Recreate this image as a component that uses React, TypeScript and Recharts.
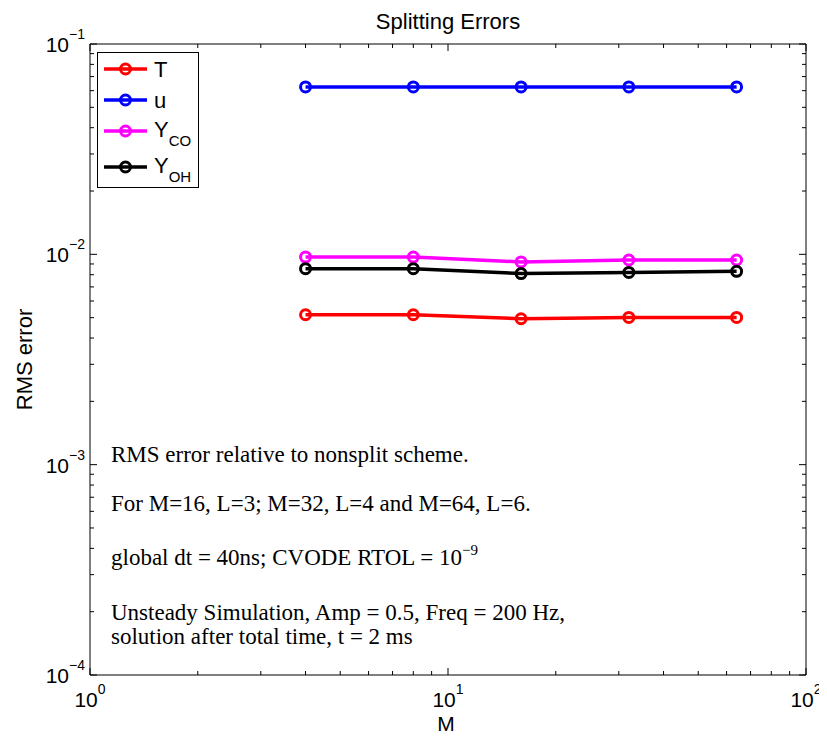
import React from 'react';
import { LineChart, Line, XAxis, YAxis, ReferenceArea, Legend } from 'recharts';

// ---- data ----
const M_VALUES = [4, 8, 16, 32, 64];
const T_ERR = [0.00516, 0.00516, 0.00494, 0.00501, 0.00501];
const U_ERR = [0.0625, 0.0625, 0.0625, 0.0625, 0.0625];
const YCO_ERR = [0.0097, 0.0097, 0.0092, 0.0094, 0.0094];
const YOH_ERR = [0.00855, 0.00855, 0.0081, 0.0082, 0.0083];

const X_TICKS = [1, 2, 3, 4, 5, 6, 7, 8, 9, 10, 20, 30, 40, 50, 60, 70, 80, 90, 100];
const X_MAJOR = [1, 10, 100];
const X_MAJOR_EXP = ['0', '1', '2'];
const Y_TICKS = [
  0.0001, 0.0002, 0.0003, 0.0004, 0.0005, 0.0006, 0.0007, 0.0008, 0.0009,
  0.001, 0.002, 0.003, 0.004, 0.005, 0.006, 0.007, 0.008, 0.009,
  0.01, 0.02, 0.03, 0.04, 0.05, 0.06, 0.07, 0.08, 0.09, 0.1,
];
const Y_MAJOR = [0.0001, 0.001, 0.01, 0.1];
const Y_MAJOR_EXP = ['\u22124', '\u22123', '\u22122', '\u22121'];

const SERIES = [
  { key: 'T', name: 'T', color: '#ff0000', values: T_ERR },
  { key: 'u', name: 'u', color: '#0000ff', values: U_ERR },
  { key: 'Yco', name: 'Y_CO', color: '#ff00ff', values: YCO_ERR },
  { key: 'Yoh', name: 'Y_OH', color: '#000000', values: YOH_ERR },
];

const NOTES = [
  'RMS error relative to nonsplit scheme.',
  'For M=16, L=3; M=32, L=4 and M=64, L=6.',
  'global dt = 40ns; CVODE RTOL = 10^\u22129',
  'Unsteady Simulation, Amp = 0.5, Freq = 200 Hz,',
  'solution after total time, t = 2 ms',
];

const data = M_VALUES.map((m, i) => {
  const row: any = { M: m };
  SERIES.forEach((s) => (row[s.key] = s.values[i]));
  return row;
});

// ---- layout ----
const W = 819;
const H = 728;
const PLOT_LEFT = 82;
const PLOT_TOP = 36;
const PLOT_RIGHT = 798;
const PLOT_BOTTOM = 667;
const SANS = '"Liberation Sans", Arial, Helvetica, sans-serif';
const SERIF = '"Liberation Serif", "Times New Roman", serif';

const XTick = (props: any) => {
  const { x, payload } = props;
  const v = payload.value;
  const mi = X_MAJOR.indexOf(v);
  const major = mi >= 0;
  const len = major ? 7 : 4;
  return (
    <g>
      <line x1={x} x2={x} y1={PLOT_BOTTOM} y2={PLOT_BOTTOM - len} stroke="#000" strokeWidth={1} />
      <line x1={x} x2={x} y1={PLOT_TOP} y2={PLOT_TOP + len} stroke="#000" strokeWidth={1} />
      {major && (
        <text x={x} y={PLOT_BOTTOM + 32} textAnchor="middle" fontFamily={SANS} fill="#000">
          <tspan fontSize={21}>10</tspan>
          <tspan fontSize={14} dy={-13}>{X_MAJOR_EXP[mi]}</tspan>
        </text>
      )}
    </g>
  );
};

const YTick = (props: any) => {
  const { y, payload } = props;
  const v = payload.value;
  const mi = Y_MAJOR.findIndex((t) => Math.abs(t - v) / t < 1e-6);
  const major = mi >= 0;
  const len = major ? 7 : 4;
  return (
    <g>
      <line x1={PLOT_LEFT} x2={PLOT_LEFT + len} y1={y} y2={y} stroke="#000" strokeWidth={1} />
      <line x1={PLOT_RIGHT} x2={PLOT_RIGHT - len} y1={y} y2={y} stroke="#000" strokeWidth={1} />
      {major && (
        <text x={PLOT_LEFT - 5} y={y + 8} textAnchor="end" fontFamily={SANS} fill="#000">
          <tspan fontSize={21}>10</tspan>
          <tspan fontSize={14} dy={-13}>{Y_MAJOR_EXP[mi]}</tspan>
        </text>
      )}
    </g>
  );
};

const LEGEND_ROW_Y = [16, 47, 78, 114];

const renderLegend = (props: any) => {
  const payload = props.payload || [];
  const ordered = SERIES.map((s) => {
    const p = payload.find((q: any) => q.dataKey === s.key || q.value === s.name);
    return { name: s.name, color: p ? p.color : s.color };
  });
  return (
    <div style={{ width: 102, height: 136, border: '1px solid #000', background: '#fff', boxSizing: 'border-box' }}>
      <svg width={100} height={134} style={{ display: 'block' }}>
        {ordered.map((p: any, i: number) => {
          const ly = LEGEND_ROW_Y[i];
          const parts = String(p.name).split('_');
          return (
            <g key={i}>
              <line x1={6} x2={49} y1={ly} y2={ly} stroke={p.color} strokeWidth={3.5} />
              <circle cx={27.5} cy={ly} r={5} fill="none" stroke={p.color} strokeWidth={3} />
              <text x={56} y={parts.length > 1 ? ly + 6 : ly + 8} fontFamily={SANS} fill="#000" fontSize={22}>
                {parts[0]}
                {parts.length > 1 && (
                  <tspan fontSize={15} dy={9}>{parts[1]}</tspan>
                )}
              </text>
            </g>
          );
        })}
      </svg>
    </div>
  );
};

const renderNote = (s: string) => {
  const idx = s.indexOf('^');
  if (idx < 0) return s;
  return (
    <>
      {s.slice(0, idx)}
      <tspan fontSize={15} dy={-10}>{s.slice(idx + 1)}</tspan>
    </>
  );
};

const NOTE_BASELINES = [454, 503, 557, 612, 636];

export default function App() {
  return (
    <div style={{ width: W, height: H }}>
      <LineChart width={W} height={H} data={data} margin={{ top: PLOT_TOP, right: W - PLOT_RIGHT, left: 0, bottom: 0 }}>
        <XAxis
          dataKey="M"
          type="number"
          scale="log"
          domain={[1, 100]}
          allowDataOverflow
          ticks={X_TICKS}
          interval={0}
          tick={<XTick />}
          tickLine={false}
          axisLine={false}
          tickSize={0}
          tickMargin={0}
          height={H - PLOT_BOTTOM}
        />
        <YAxis
          type="number"
          scale="log"
          domain={[0.0001, 0.1]}
          allowDataOverflow
          ticks={Y_TICKS}
          interval={0}
          tick={<YTick />}
          tickLine={false}
          axisLine={false}
          tickSize={0}
          tickMargin={0}
          width={PLOT_LEFT}
        />
        <ReferenceArea x1={1} x2={100} y1={0.0001} y2={0.1} fill="none" fillOpacity={0} stroke="#000" strokeWidth={1} ifOverflow="visible" />
        {SERIES.map((s) => (
          <Line
            key={s.key}
            dataKey={s.key}
            name={s.name}
            stroke={s.color}
            strokeWidth={3.5}
            dot={{ r: 5, strokeWidth: 3, fill: 'none', stroke: s.color }}
            activeDot={false}
            isAnimationActive={false}
          />
        ))}
        <Legend
          layout="vertical"
          verticalAlign="middle"
          align="center"
          content={renderLegend}
          wrapperStyle={{ position: 'absolute', left: 89, top: 44, width: 102, height: 136 }}
        />
        <text x={(PLOT_LEFT + PLOT_RIGHT) / 2} y={21} textAnchor="middle" fontFamily={SANS} fontSize={22} fill="#000">
          Splitting Errors
        </text>
        <text x={(PLOT_LEFT + PLOT_RIGHT) / 2 - 2} y={723} textAnchor="middle" fontFamily={SANS} fontSize={21} fill="#000">
          M
        </text>
        <text
          x={16}
          y={(PLOT_TOP + PLOT_BOTTOM) / 2}
          textAnchor="middle"
          dominantBaseline="central"
          transform={`rotate(-90 16 ${(PLOT_TOP + PLOT_BOTTOM) / 2})`}
          fontFamily={SANS}
          fontSize={22}
          fill="#000"
        >
          RMS error
        </text>
        {NOTES.map((n, i) => (
          <text key={i} x={103} y={NOTE_BASELINES[i]} fontFamily={SERIF} fontSize={23} fill="#000">
            {renderNote(n)}
          </text>
        ))}
      </LineChart>
    </div>
  );
}
